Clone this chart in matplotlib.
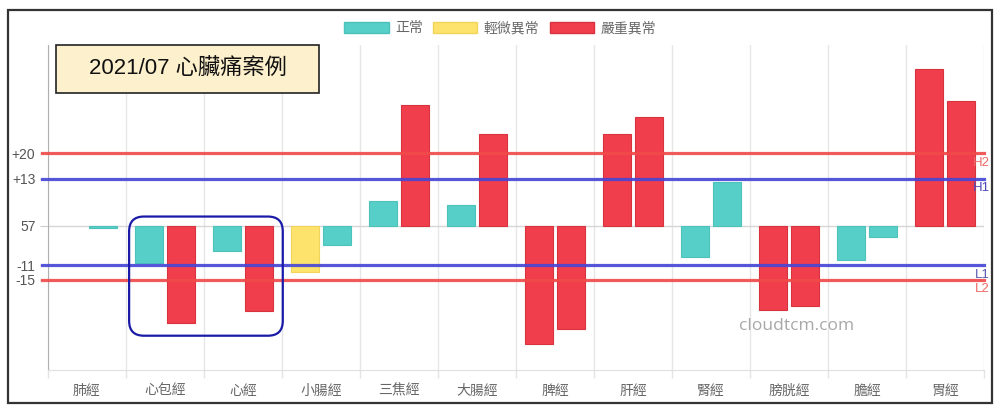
import matplotlib
matplotlib.use("Agg")
import matplotlib.pyplot as plt
from matplotlib.patches import Patch, Rectangle, FancyBboxPatch
import numpy as np

plt.rcParams['font.family'] = ['Liberation Sans', 'Noto Sans CJK TC', 'DejaVu Sans']

categories = ["肺經", "心包經", "心經", "小腸經", "三焦經", "大腸經",
              "脾經", "肝經", "腎經", "膀胱經", "膽經", "胃經"]
left_values = [0, -10.3, -7, -12.8, 6.7, 5.8, -32.8, 25.3, -8.6, -23.3, -9.4, 43.3]
right_values = [-0.8, -27, -23.6, -5.3, 33.3, 25.3, -28.6, 30, 12, -22.2, -3.3, 34.4]
left_status = ["正常", "正常", "正常", "輕微異常", "正常", "正常",
               "嚴重異常", "嚴重異常", "正常", "嚴重異常", "正常", "嚴重異常"]
right_status = ["正常", "嚴重異常", "嚴重異常", "正常", "嚴重異常", "嚴重異常",
                "嚴重異常", "嚴重異常", "正常", "嚴重異常", "正常", "嚴重異常"]
legend_labels = ["正常", "輕微異常", "嚴重異常"]
tick_values = [20, 13, 0, -11, -15]
tick_labels = ["+20", "+13", "57", "-11", "-15"]
thresholds = [20, 13, -11, -15]
threshold_names = ["H2", "H1", "L1", "L2"]
title = "2021/07 心臟痛案例"

status_colors = {"正常": "#55cfc8", "輕微異常": "#fde36b", "嚴重異常": "#f03e4c"}
status_edges = {"正常": "#4cc2bb", "輕微異常": "#f2d45a", "嚴重異常": "#d8323f"}
line_colors = {"H2": "#f24a4a", "H1": "#4646d8", "L1": "#4646d8", "L2": "#f24a4a"}
label_colors = {"H2": "#ee6a6a", "H1": "#4a4ab8", "L1": "#5a5ab0", "L2": "#ee6a6a"}

fig = plt.figure(figsize=(10, 4.15), dpi=100)
ax = fig.add_axes([0.048, 0.1084, 0.936, 0.7831])

x = np.arange(len(categories))
w = 0.36
ax.bar(x - 0.2, left_values, w,
       color=[status_colors[s] for s in left_status],
       edgecolor=[status_edges[s] for s in left_status],
       linewidth=[0.8 if v != 0 else 0 for v in left_values], zorder=3)
ax.bar(x + 0.2, right_values, w,
       color=[status_colors[s] for s in right_status],
       edgecolor=[status_edges[s] for s in right_status],
       linewidth=[0.8 if v != 0 else 0 for v in right_values], zorder=3)

ax.set_xlim(-0.5, len(categories) - 0.5)
ax.set_ylim(-40, 50)

ax.set_yticks(tick_values)
ax.set_yticklabels(tick_labels)
ax.set_xticks(x)
ax.set_xticklabels(categories)
ax.set_xticks(np.arange(len(categories) + 1) - 0.5, minor=True)
ax.tick_params(axis='x', which='major', length=0, pad=10, labelsize=10, labelcolor="#666666")
ax.tick_params(axis='x', which='minor', length=6, color="#e4e4e4", width=1)
ax.tick_params(axis='y', length=6, color="#cccccc", pad=3, labelsize=10, labelcolor="#555555")
ax.grid(axis='x', which='minor', color="#e6e6e6", linewidth=1, zorder=0)
ax.grid(axis='y', which='major', color="#d6d6d6", linewidth=1, zorder=0)
for s in ['top', 'right']:
    ax.spines[s].set_visible(False)
ax.spines['left'].set_color("#b0b0b0")
ax.spines['bottom'].set_color("#e0e0e0")

for val, name in zip(thresholds, threshold_names):
    ax.axhline(val, xmin=-0.006, xmax=1.0, color=line_colors[name], linewidth=2.3,
               alpha=0.9, zorder=4, clip_on=False)
    ax.text(1.0064, val - 1.0, name, transform=ax.get_yaxis_transform(),
            ha='right', va='top', fontsize=9.5, color=label_colors[name], zorder=5)

# highlight rounded box around 心包經 and 心經
hl = FancyBboxPatch((0.54, -30.5), 1.97, 33,
                    boxstyle="round,pad=0,rounding_size=0.19",
                    mutation_aspect=21.6, fill=False, edgecolor="#1a1aa8",
                    linewidth=1.6, zorder=6, clip_on=False)
ax.add_patch(hl)

fig.text(0.797, 1 - 326 / 415, "cloudtcm.com", ha='center', va='center',
         fontsize=12.5, color="#a8a8a8", family=['Open Sans', 'DejaVu Sans'])

# title box
fig.patches.append(Rectangle((0.056, 0.777), 0.263, 0.115, transform=fig.transFigure,
                             facecolor="#fdf0cc", edgecolor="#222222", linewidth=1.2,
                             zorder=5))
fig.text(0.1875, 0.834, title, ha='center', va='center', fontsize=16, color="#111111",
         zorder=6)

# legend
handles = [Patch(facecolor=status_colors[s], edgecolor=status_edges[s], label=s)
           for s in legend_labels]
fig.legend(handles=handles, loc='center', bbox_to_anchor=(0.5, 0.932), ncol=3,
           frameon=False, fontsize=10, handlelength=3.2, handleheight=0.85,
           columnspacing=0.75, handletextpad=0.45, labelcolor="#666666")

# outer frame
fig.patches.append(Rectangle((0.008, 0.029), 0.984, 0.947, transform=fig.transFigure,
                             fill=False, edgecolor="#333333", linewidth=1.6, zorder=10))

fig.savefig("out.png", dpi=100)
